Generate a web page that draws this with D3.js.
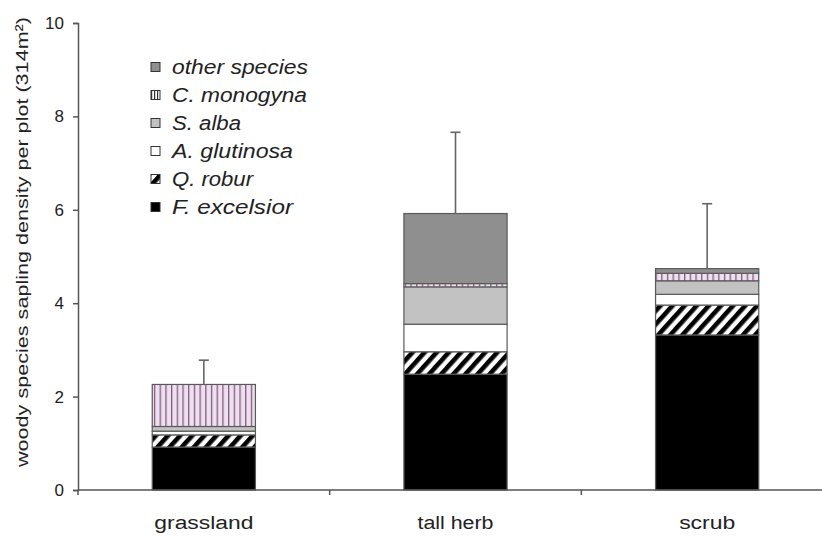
<!DOCTYPE html>
<html>
<head>
<meta charset="utf-8">
<script src="https://cdn.jsdelivr.net/npm/d3@7"></script>
<style>
  html, body { margin: 0; padding: 0; background: #fff; }
  svg { display: block; }
  text { font-family: "Liberation Sans", Arial, sans-serif; fill: #222; }
</style>
</head>
<body>
<svg id="chart" width="822" height="538"></svg>
<script>
// ---- data ----
const categories = ["grassland", "tall herb", "scrub"];
const species = ["F. excelsior", "Q. robur", "A. glutinosa", "S. alba", "C. monogyna", "other species"];
const fExcelsior   = [0.92, 2.48, 3.32];
const qRobur       = [0.26, 0.48, 0.64];
const aGlutinosa   = [0.08, 0.59, 0.23];
const sAlba        = [0.10, 0.80, 0.29];
const cMonogyna    = [0.90, 0.07, 0.16];
const otherSpecies = [0.00, 1.50, 0.10];
const errors       = [0.52, 1.74, 1.39];
const yTicks = [0, 2, 4, 6, 8, 10];
const yLabel = "woody species sapling density per plot (314m²)";

// ---- build table ----
const seriesValues = [fExcelsior, qRobur, aGlutinosa, sAlba, cMonogyna, otherSpecies];
const table = categories.map((c, i) => {
  const row = { category: c };
  species.forEach((s, k) => row[s] = seriesValues[k][i]);
  return row;
});
const stacked = d3.stack().keys(species)(table);

const svg = d3.select("#chart");

// patterns
const defs = svg.append("defs");
const hatch = defs.append("pattern").attr("id", "hatch")
  .attr("patternUnits", "userSpaceOnUse").attr("width", 9).attr("height", 9)
  .attr("patternTransform", "rotate(42)");
hatch.append("rect").attr("width", 9).attr("height", 9).attr("fill", "#fff");
hatch.append("rect").attr("width", 4.6).attr("height", 9).attr("fill", "#000");

const vstripe = defs.append("pattern").attr("id", "vstripe")
  .attr("patternUnits", "userSpaceOnUse").attr("width", 5.7).attr("height", 10);
vstripe.append("rect").attr("width", 5.7).attr("height", 10).attr("fill", "#f0dff0");
vstripe.append("rect").attr("x", 0).attr("width", 1.3).attr("height", 10).attr("fill", "#7d5f7d");

const vstripeLeg = defs.append("pattern").attr("id", "vstripeLeg")
  .attr("patternUnits", "userSpaceOnUse").attr("width", 3).attr("height", 10);
vstripeLeg.append("rect").attr("width", 3).attr("height", 10).attr("fill", "#fff");
vstripeLeg.append("rect").attr("x", 1).attr("width", 1.2).attr("height", 10).attr("fill", "#333");

const fills = {
  "F. excelsior": "#000",
  "Q. robur": "url(#hatch)",
  "A. glutinosa": "#fff",
  "S. alba": "#c2c2c2",
  "C. monogyna": "url(#vstripe)",
  "other species": "#8f8f8f"
};
const legendFills = Object.assign({}, fills, { "C. monogyna": "url(#vstripeLeg)" });

// scales
const y = d3.scaleLinear().domain([0, 10]).range([490, 23]);
const x = d3.scaleBand().domain(categories).range([78, 833])
  .paddingInner(0.59).paddingOuter(0.295);

// bars
const g = svg.append("g");
stacked.forEach(layer => {
  g.append("g").selectAll("rect").data(layer.filter(d => d[1] - d[0] > 0)).join("rect")
    .attr("x", d => x(d.data.category))
    .attr("width", x.bandwidth())
    .attr("y", d => y(d[1]))
    .attr("height", d => y(d[0]) - y(d[1]))
    .attr("fill", fills[layer.key])
    .attr("stroke", "#5a5a5a")
    .attr("stroke-width", 1.2);
});

// error bars
const totals = table.map(r => d3.sum(species, s => r[s]));
const eg = svg.append("g").attr("stroke", "#666").attr("stroke-width", 1.6);
categories.forEach((c, i) => {
  const cx = x(c) + x.bandwidth() / 2;
  eg.append("line").attr("x1", cx).attr("x2", cx)
    .attr("y1", y(totals[i])).attr("y2", y(totals[i] + errors[i]));
  eg.append("line").attr("x1", cx - 5).attr("x2", cx + 5)
    .attr("y1", y(totals[i] + errors[i])).attr("y2", y(totals[i] + errors[i]));
});

// y axis
const yAxis = svg.append("g").attr("transform", "translate(78,0)")
  .call(d3.axisLeft(y).tickValues(yTicks).tickSize(5).tickPadding(9));
yAxis.select(".domain").attr("stroke", "#555").attr("stroke-width", 1.5);
yAxis.selectAll(".tick line").attr("stroke", "#555").attr("stroke-width", 1.5);
yAxis.selectAll(".tick text").attr("font-size", 17)
  .style("font-family", "'Liberation Sans', Arial, sans-serif").attr("fill", "#222");

// x axis
const xAxisG = svg.append("g").attr("transform", "translate(0,490)");
xAxisG.append("line").attr("x1", 78).attr("x2", 822).attr("stroke", "#555").attr("stroke-width", 1.5);
const bounds = [0, 1, 2, 3].map(k => 78 + k * x.step());
xAxisG.selectAll("line.tk").data(bounds).join("line").attr("class", "tk")
  .attr("x1", d => d).attr("x2", d => d).attr("y1", 0).attr("y2", 5)
  .attr("stroke", "#555").attr("stroke-width", 1.5);
const xLabelLen = { "grassland": 99, "tall herb": 76, "scrub": 56 };
svg.append("g").selectAll("text").data(categories).join("text")
  .attr("x", d => x(d) + x.bandwidth() / 2)
  .attr("y", 529)
  .attr("text-anchor", "middle")
  .attr("font-size", 18)
  .attr("textLength", d => xLabelLen[d])
  .attr("lengthAdjust", "spacingAndGlyphs")
  .text(d => d);

// y label
svg.append("text")
  .attr("transform", "translate(28,242) rotate(-90)")
  .attr("text-anchor", "middle")
  .attr("font-size", 17)
  .attr("textLength", 450)
  .attr("lengthAdjust", "spacingAndGlyphs")
  .text(yLabel);

// legend (reverse order, top = other species)
const legendOrder = species.slice().reverse();
const legendLen = { "other species": 136, "C. monogyna": 135, "S. alba": 69, "A. glutinosa": 121, "Q. robur": 81, "F. excelsior": 121 };
const lg = svg.append("g");
legendOrder.forEach((s, i) => {
  const cy = 67 + i * 28;
  lg.append("rect").attr("x", 151).attr("y", cy - 4.5).attr("width", 9).attr("height", 9)
    .attr("fill", legendFills[s]).attr("stroke", "#333").attr("stroke-width", 1);
  lg.append("text").attr("x", 172).attr("y", cy + 7)
    .attr("font-size", 20).attr("font-style", "italic")
    .attr("textLength", legendLen[s]).attr("lengthAdjust", "spacingAndGlyphs")
    .text(s);
});
</script>
</body>
</html>
